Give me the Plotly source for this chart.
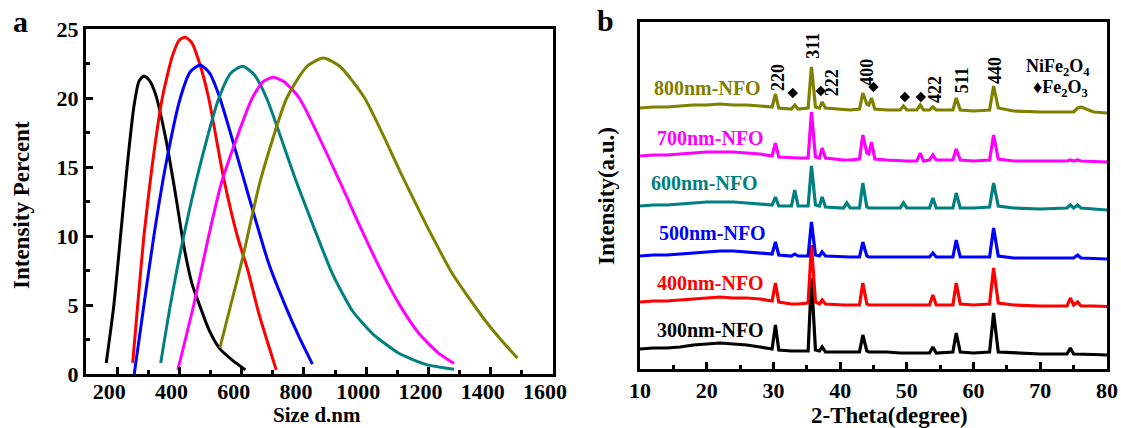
import plotly.graph_objects as go

W, H = 1121, 428
FONT = "Liberation Serif"

# ---------------- Panel a : DLS size distributions ----------------
dls_colors = ["#000000", "#FF0000", "#0000FF", "#008080", "#FF00FF", "#808000"]

size_300 = [165, 189, 211, 232, 254, 270, 286, 303, 323, 355, 387, 414, 441, 463, 495, 529, 570, 612]
pct_300 = [0.8, 4.9, 10.0, 15.0, 19.4, 21.2, 21.6, 21.3, 20.3, 17.2, 13.1, 9.3, 6.5, 5.1, 3.2, 1.86, 1.0, 0.3]

size_400 = [250, 266, 286, 312, 345, 377, 400, 419, 440, 465, 494, 543, 586, 620, 655, 711]
pct_400 = [0.8, 5.0, 10.0, 15.0, 20.0, 23.0, 24.2, 24.4, 24.0, 22.5, 20.0, 14.1, 10.0, 7.5, 4.4, 0.3]

size_500 = [255, 286, 318, 355, 403, 435, 467, 497, 530, 607, 639, 687, 741, 784, 827]
pct_500 = [0.0, 5.0, 10.0, 15.0, 20.0, 21.9, 22.4, 21.8, 20.0, 14.1, 11.6, 8.0, 4.9, 2.7, 0.72]

size_600 = [340, 371, 414, 465, 527, 565, 603, 640, 680, 773, 827, 891, 955, 1019, 1105, 1191, 1282]
pct_600 = [0.8, 5.0, 10.0, 15.0, 20.0, 21.8, 22.3, 21.7, 20.0, 14.1, 10.9, 7.3, 4.6, 2.95, 1.5, 0.7, 0.34]

size_700 = [395, 446, 494, 537, 634, 670, 701, 735, 785, 912, 976, 1041, 1105, 1169, 1233, 1282]
pct_700 = [0.3, 5.0, 10.0, 14.0, 20.0, 21.2, 21.5, 21.2, 20.0, 14.1, 10.9, 7.8, 5.1, 2.95, 1.5, 0.77]

size_800 = [530, 565, 602, 661, 745, 810, 862, 915, 995, 1121, 1191, 1276, 1373, 1432, 1486]
pct_800 = [1.9, 5.0, 8.3, 14.1, 20.0, 22.3, 22.9, 22.3, 20.0, 14.1, 10.9, 7.3, 4.15, 2.5, 1.15]

dls_sizes = [size_300, size_400, size_500, size_600, size_700, size_800]
dls_pcts = [pct_300, pct_400, pct_500, pct_600, pct_700, pct_800]

# ---------------- Panel b : XRD patterns ----------------
two_theta = [10, 12, 14, 16, 18, 20, 22, 24, 26, 28,
             29.8, 30.3, 30.8, 32.7, 33.2, 33.7, 35.2, 35.7, 36.3,
             36.9, 37.3, 37.8, 40.5, 41.0, 41.5, 42.9, 43.4, 44.0,
             44.3, 44.7, 45.2, 47.0, 49.0, 49.5, 50.0, 51.5, 52.0, 52.5,
             53.4, 53.9, 54.4, 56.9, 57.4, 58.0, 60.0, 62.4, 63.0, 63.7,
             66.0, 70.0, 74.0, 74.5, 75.0, 75.6, 76.1, 78.0, 80.0]

xrd_300 = [6, 7, 7, 8, 10, 11, 12, 11, 10, 8,
           6, 30, 5, 4, 4, 4, 4, 77, 5,
           4, 8, 3, 3, 3, 3, 3, 20, 4,
           3, 3, 3, 3, 2, 2, 2, 2, 2, 2,
           2, 8, 2, 3, 22, 3, 2, 3, 42, 3,
           2, 1, 1, 7, 1, 1, 1, 0.5, 0]
xrd_400 = [5, 6, 6, 7, 8, 9, 10, 9, 9, 8,
           6, 24, 5, 3, 3, 3, 4, 62, 5,
           3, 7, 3, 2, 2, 2, 2, 24, 3,
           2, 2, 2, 2, 2, 2, 2, 2, 2, 2,
           2, 12, 2, 2, 24, 3, 2, 3, 39, 4,
           2, 1, 1, 9, 2, 5, 1, 1, 0.5]
xrd_500 = [3, 4, 4, 5, 6, 7, 8, 8, 7, 6,
           5, 17, 4, 3, 5, 3, 3, 37, 4,
           3, 7, 3, 2, 2, 2, 2, 17, 3,
           2, 2, 2, 2, 2, 2, 2, 2, 2, 2,
           2, 6, 2, 2, 19, 2, 2, 2, 31, 3,
           1, 1, 1, 1, 1, 4, 1, 0.5, 0]
xrd_600 = [4, 5, 5, 6, 7, 8, 8, 8, 7, 6,
           5, 13, 4, 4, 20, 4, 4, 44, 5,
           4, 13, 3, 2, 7, 2, 2, 27, 3,
           2, 2, 2, 2, 2, 7, 2, 2, 2, 2,
           2, 12, 2, 2, 17, 2, 2, 3, 27, 4,
           2, 1, 2, 5, 2, 5, 2, 1, 0]
xrd_700 = [6, 7, 7, 8, 9, 10, 10, 10, 9, 8,
           6, 19, 5, 4, 4, 4, 4, 50, 5,
           4, 14, 4, 2, 2, 2, 3, 27, 9,
           8, 20, 3, 2, 1, 1, 1, 1, 9, 1,
           2, 7, 2, 2, 13, 2, 1, 2, 27, 3,
           1, 1, 1, 2, 1, 2, 1, 0.5, 0]
xrd_800 = [5, 6, 6, 7, 8, 8, 9, 8, 8, 7,
           6, 19, 5, 4, 8, 4, 5, 46, 6,
           5, 11, 5, 3, 3, 3, 4, 20, 9,
           8, 15, 4, 3, 3, 7, 3, 3, 8, 3,
           3, 6, 3, 3, 15, 3, 2, 3, 27, 5,
           2, 1, 1, 1, 1, 5, 6, 1, 0]
xrd_series = [xrd_300, xrd_400, xrd_500, xrd_600, xrd_700, xrd_800]
xrd_offsets = [14, 62, 110, 159, 207, 256]
xrd_labels = ["300nm-NFO", "400nm-NFO", "500nm-NFO", "600nm-NFO", "700nm-NFO", "800nm-NFO"]
label_theta = [20.5, 20.5, 20.9, 19.6, 20.5, 20.1]
label_level = [39, 86, 136, 186, 231, 281]

hkl_text = ["220", "311", "222", "400", "422", "511", "440"]
hkl_theta = [30.7, 35.9, 38.8, 44.0, 54.2, 58.3, 63.2]
hkl_level = [291, 323, 286, 297, 280, 289, 299]

fe2o3_theta = [32.9, 37.1, 45.0, 49.7, 52.1]
fe2o3_level = [276, 278, 282, 272, 272]

fig = go.Figure()

for xs, ys, c in zip(dls_sizes, dls_pcts, dls_colors):
    fig.add_trace(go.Scatter(x=xs, y=ys, mode="lines", xaxis="x", yaxis="y",
                             line=dict(color=c, width=3, shape="spline", smoothing=0.6),
                             showlegend=False, hoverinfo="skip"))

for vals, off, c in zip(xrd_series, xrd_offsets, dls_colors):
    fig.add_trace(go.Scatter(x=two_theta, y=[v + off for v in vals], mode="lines",
                             xaxis="x2", yaxis="y2",
                             line=dict(color=c, width=3.2), showlegend=False, hoverinfo="skip"))

fig.add_trace(go.Scatter(x=fe2o3_theta, y=fe2o3_level, mode="markers", xaxis="x2", yaxis="y2",
                         marker=dict(symbol="diamond", size=8, color="black"),
                         showlegend=False, hoverinfo="skip"))

tickfont = dict(family=FONT, size=22, color="black", weight="bold")
common = dict(showline=True, linewidth=3, linecolor="black", mirror=True,
              showgrid=False, zeroline=False, tickwidth=3, tickcolor="black")

fig.update_layout(
    width=W, height=H, margin=dict(l=0, r=0, t=0, b=0),
    paper_bgcolor="white", plot_bgcolor="white",
    xaxis=dict(domain=[86 / W, 553 / W], range=[100, 1600], tick0=0, dtick=200,
               ticks="inside", ticklen=7, tickfont=tickfont, ticklabelstandoff=-4,
               minor=dict(ticks="inside", dtick=100, ticklen=4, tickwidth=3, tickcolor="black"),
               ticklabelshift=-8, ticklabeloverflow="allow", anchor="y", automargin=False, **common),
    yaxis=dict(domain=[1 - 374 / H, 1 - 29 / H], range=[0, 25], dtick=5,
               ticks="inside", ticklen=7, tickfont=tickfont,
               minor=dict(ticks="inside", dtick=2.5, ticklen=4, tickwidth=3, tickcolor="black"),
               ticklabeloverflow="allow", anchor="x", automargin=False, **common),
    xaxis2=dict(domain=[640 / W, 1107 / W], range=[10, 80], dtick=10,
                ticks="inside", ticklen=7, tickfont=tickfont,
                minor=dict(ticks="inside", dtick=5, ticklen=4, tickwidth=3, tickcolor="black"),
                ticklabeloverflow="allow", anchor="y2", automargin=False, **common),
    yaxis2=dict(domain=[1 - 369 / H, 1 - 22 / H], range=[0, 347], showticklabels=False,
                ticks="", anchor="x2", automargin=False, **common),
)

ann = []
def paper_text(txt, px, py, size, angle=0, color="black"):
    ann.append(dict(text=txt, x=px / W, y=1 - py / H, xref="paper", yref="paper",
                    showarrow=False, textangle=angle, xanchor="center", yanchor="middle",
                    font=dict(family=FONT, size=size, color=color, weight="bold")))

paper_text("a", 20, 22, 30)
paper_text("b", 605, 20, 30)
paper_text("Intensity Percent", 21, 205, 23, angle=-90)
paper_text("Size d.nm", 317, 415, 21)
paper_text("Intensity(a.u.)", 607, 196, 23, angle=-90)
paper_text("2-Theta(degree)", 889, 415, 23)
paper_text("NiFe<sub>2</sub>O<sub>4</sub>", 1058, 67, 18)
paper_text("♦Fe<sub>2</sub>O<sub>3</sub>", 1060, 88, 18)

for txt, th, lv, c in zip(xrd_labels, label_theta, label_level, dls_colors):
    ann.append(dict(text=txt, x=th, y=lv, xref="x2", yref="y2", showarrow=False,
                    xanchor="center", yanchor="middle",
                    font=dict(family=FONT, size=20, color=c, weight="bold")))
for txt, th, lv in zip(hkl_text, hkl_theta, hkl_level):
    ann.append(dict(text=txt, x=th, y=lv, xref="x2", yref="y2", showarrow=False,
                    textangle=-90, xanchor="center", yanchor="middle",
                    font=dict(family=FONT, size=18, color="black", weight="bold")))

fig.update_layout(annotations=ann)
fig.write_html("out.html", config={"displayModeBar": False},
               post_script="document.body.style.margin='0';document.body.style.padding='0';")
